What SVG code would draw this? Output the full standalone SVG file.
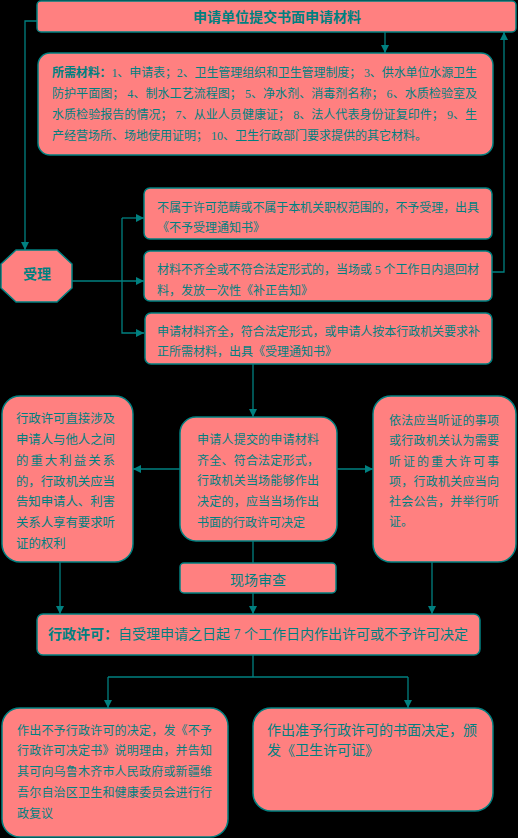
<svg xmlns="http://www.w3.org/2000/svg" width="518" height="838" viewBox="0 0 518 838">
<style>
.bx{fill:#FF8080;stroke:#008080;stroke-width:1.5}
.t{font-family:"Liberation Serif","Noto Sans CJK SC",serif;font-size:12px;fill:#008080}
.b{font-weight:bold}
.c{text-anchor:middle}
.ln{fill:none;stroke:#008080;stroke-width:1.3}
</style>
<defs>
<marker id="ah" viewBox="0 0 10 10" refX="10" refY="5" markerWidth="8" markerHeight="8" markerUnits="userSpaceOnUse" orient="auto">
<path d="M0,0 L10,5 L0,10 z" fill="#008080"/>
</marker>
</defs>
<rect width="518" height="838" fill="#000"/>

<g id="connectors" class="ln">
<path d="M385,32 V53" marker-end="url(#ah)"/>
<path d="M37,21 H25 V250" marker-end="url(#ah)"/>
<path d="M72,281 H144" marker-end="url(#ah)"/>
<path d="M122,218 H144" marker-end="url(#ah)"/>
<path d="M122,218 V333 H144" marker-end="url(#ah)"/>
<path d="M492,272 H504 V32" marker-end="url(#ah)"/>
<path d="M253,364 V417" marker-end="url(#ah)"/>
<path d="M180,469 H133" marker-end="url(#ah)"/>
<path d="M337,469 H373" marker-end="url(#ah)"/>
<path d="M253,541 V563"/>
<path d="M253,593 V614" marker-end="url(#ah)"/>
<path d="M60,562 V614" marker-end="url(#ah)"/>
<path d="M432,562 V614" marker-end="url(#ah)"/>
<path d="M253,655 V677"/>
<path d="M108,677 H408"/>
<path d="M108,677 V708" marker-end="url(#ah)"/>
<path d="M408,677 V708" marker-end="url(#ah)"/>
</g>

<g id="n1">
<rect class="bx" x="37" y="1" width="479" height="31" rx="4"/>
<text class="t b c" x="277" y="22" style="font-size:14px">申请单位提交书面申请材料</text>
</g>

<g id="n2">
<rect class="bx" x="38" y="53" width="455" height="102" rx="12"/>
<text class="t" x="52" y="76.5" textLength="425" lengthAdjust="spacing"><tspan class="b">所需材料：</tspan>1、申请表；2、卫生管理组织和卫生管理制度； 3、供水单位水源卫生</text>
<text class="t" x="52" y="97.5" textLength="425" lengthAdjust="spacing">防护平面图； 4、制水工艺流程图； 5、净水剂、消毒剂名称； 6、水质检验室及</text>
<text class="t" x="52" y="118.5" textLength="425" lengthAdjust="spacing">水质检验报告的情况； 7、从业人员健康证； 8、法人代表身份证复印件； 9、生</text>
<text class="t" x="52" y="139.5">产经营场所、场地使用证明； 10、卫生行政部门要求提供的其它材料。</text>
</g>

<g id="n3">
<polygon class="bx" points="16,250 57,250 72,264 72,288 57,302 16,302 1,288 1,264"/>
<text class="t b c" x="37" y="278.5" style="font-size:14px">受理</text>
</g>

<g id="n4">
<rect class="bx" x="144" y="188" width="348" height="51" rx="6"/>
<text class="t" x="157" y="211.5" textLength="322" lengthAdjust="spacing">不属于许可范畴或不属于本机关职权范围的，不予受理，出具</text>
<text class="t" x="157" y="231.5">《不予受理通知书》</text>
</g>

<g id="n5">
<rect class="bx" x="144" y="251" width="348" height="50" rx="6"/>
<text class="t" x="157" y="274" textLength="322" lengthAdjust="spacing">材料不齐全或不符合法定形式的，当场或 5 个工作日内退回材</text>
<text class="t" x="157" y="294.5">料，发放一次性《补正告知》</text>
</g>

<g id="n6">
<rect class="bx" x="145" y="313" width="347" height="51" rx="6"/>
<text class="t" x="157" y="336" textLength="323" lengthAdjust="spacing">申请材料齐全，符合法定形式，或申请人按本行政机关要求补</text>
<text class="t" x="157" y="356">正所需材料，出具《受理通知书》</text>
</g>

<g id="n7">
<rect class="bx" x="180" y="417" width="157" height="124" rx="16"/>
<text class="t" x="197" y="444" textLength="122" lengthAdjust="spacing">申请人提交的申请材料</text>
<text class="t" x="197" y="464.5" textLength="122" lengthAdjust="spacing">齐全、符合法定形式，</text>
<text class="t" x="197" y="485" textLength="122" lengthAdjust="spacing">行政机关当场能够作出</text>
<text class="t" x="197" y="506" textLength="122" lengthAdjust="spacing">决定的，应当当场作出</text>
<text class="t" x="197" y="527">书面的行政许可决定</text>
</g>

<g id="n8">
<rect class="bx" x="2" y="396" width="131" height="166" rx="18"/>
<g style="font-size:12.4px">
<text class="t" x="16" y="423" textLength="99" lengthAdjust="spacing" style="font-size:12.4px">行政许可直接涉及</text>
<text class="t" x="16" y="443.5" textLength="99" lengthAdjust="spacing" style="font-size:12.4px">申请人与他人之间</text>
<text class="t" x="16" y="465" textLength="99" lengthAdjust="spacing" style="font-size:12.4px">的重大利益关系</text>
<text class="t" x="16" y="485.5" textLength="99" lengthAdjust="spacing" style="font-size:12.4px">的，行政机关应当</text>
<text class="t" x="16" y="506" textLength="99" lengthAdjust="spacing" style="font-size:12.4px">告知申请人、利害</text>
<text class="t" x="16" y="527" textLength="99" lengthAdjust="spacing" style="font-size:12.4px">关系人享有要求听</text>
<text class="t" x="16" y="548" style="font-size:12.4px">证的权利</text>
</g>
</g>

<g id="n9">
<rect class="bx" x="373" y="396" width="143" height="166" rx="18"/>
<text class="t" x="389" y="424.5" textLength="110" lengthAdjust="spacing">依法应当听证的事项</text>
<text class="t" x="389" y="444.5" textLength="110" lengthAdjust="spacing">或行政机关认为需要</text>
<text class="t" x="389" y="465.5" textLength="110" lengthAdjust="spacing">听证的重大许可事</text>
<text class="t" x="389" y="485.5" textLength="110" lengthAdjust="spacing">项，行政机关应当向</text>
<text class="t" x="389" y="506" textLength="110" lengthAdjust="spacing">社会公告，并举行听</text>
<text class="t" x="389" y="526">证。</text>
</g>

<g id="n10">
<rect class="bx" x="180" y="563" width="156" height="30" rx="4"/>
<text class="t c" x="258" y="585" style="font-size:14px">现场审查</text>
</g>

<g id="n11">
<rect class="bx" x="37" y="614" width="443" height="41" rx="6"/>
<text class="t" x="48" y="638.5" textLength="420" lengthAdjust="spacing" style="font-size:14px"><tspan class="b">行政许可：</tspan>自受理申请之日起 7 个工作日内作出许可或不予许可决定</text>
</g>

<g id="n12">
<rect class="bx" x="2" y="708" width="226" height="129" rx="18"/>
<text class="t" x="17" y="734.5" textLength="195" lengthAdjust="spacing">作出不予行政许可的决定，发《不予</text>
<text class="t" x="17" y="754.5" textLength="195" lengthAdjust="spacing">行政许可决定书》说明理由，并告知</text>
<text class="t" x="17" y="775.5" textLength="195" lengthAdjust="spacing">其可向乌鲁木齐市人民政府或新疆维</text>
<text class="t" x="17" y="797" textLength="195" lengthAdjust="spacing">吾尔自治区卫生和健康委员会进行行</text>
<text class="t" x="17" y="818">政复议</text>
</g>

<g id="n13">
<rect class="bx" x="253" y="708" width="240" height="103" rx="18"/>
<text class="t" x="267" y="734.5" textLength="210" lengthAdjust="spacing" style="font-size:14px">作出准予行政许可的书面决定，颁</text>
<text class="t" x="267" y="755" style="font-size:14px">发《卫生许可证》</text>
</g>
</svg>
